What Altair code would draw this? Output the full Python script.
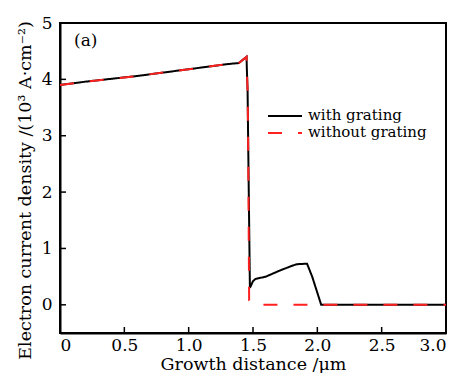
import altair as alt
import pandas as pd

# data
x_with = [0, 0.2, 0.4, 0.6, 0.8, 1.0, 1.2, 1.3, 1.39, 1.45, 1.452, 1.458, 1.462, 1.476, 1.5, 1.52, 1.6, 1.7, 1.8, 1.84, 1.92, 1.96, 2.03, 2.5, 3.0]
y_with = [3.9, 3.96, 4.01, 4.06, 4.12, 4.18, 4.24, 4.27, 4.29, 4.4, 4.2, 3.8, 3.0, 0.3, 0.42, 0.46, 0.5, 0.6, 0.69, 0.72, 0.73, 0.5, 0.0, 0.0, 0.0]
x_without = [0, 0.2, 0.4, 0.6, 0.8, 1.0, 1.2, 1.3, 1.39, 1.45, 1.452, 1.458, 1.462, 1.47, 1.5, 2.0, 2.5, 3.0]
y_without = [3.9, 3.96, 4.01, 4.06, 4.12, 4.18, 4.24, 4.27, 4.29, 4.4, 4.2, 3.8, 3.0, 0.08, 0.0, 0.0, 0.0, 0.0]
series = ["with grating", "without grating"]
x_ticks = [0, 0.5, 1.0, 1.5, 2.0, 2.5, 3.0]
y_ticks = [0, 1, 2, 3, 4, 5]

FONT = "DejaVu Serif"

rows = []
for x, y in zip(x_with, y_with):
    rows.append({"x": x, "y": y, "s": series[0]})
for x, y in zip(x_without, y_without):
    rows.append({"x": x, "y": y, "s": series[1]})
df = pd.DataFrame(rows)
df["i"] = range(len(df))

xs = alt.Scale(domain=[0, 3], nice=False)
ys = alt.Scale(domain=[-0.5, 5], nice=False)
cs = alt.Scale(domain=series, range=["black", "#ff2020"])
ds = alt.Scale(domain=series, range=[[1, 0], [14, 16]])

x_axis = alt.Axis(
    title="Growth distance /μm", values=x_ticks, ticks=False, grid=False,
    labelExpr="datum.value == 0 ? '0' : format(datum.value, '.1f')",
    labelPadding=4, titlePadding=0, titleBaseline="bottom", titleY=40)
y_axis = alt.Axis(
    title="Electron current density /(10³ A·cm⁻²)", values=y_ticks, ticks=False, grid=False,
    format="d", labelPadding=8, titlePadding=7, titleY=167)

lines = alt.Chart(df).mark_line(strokeWidth=2).encode(
    x=alt.X("x:Q", scale=xs, axis=x_axis),
    y=alt.Y("y:Q", scale=ys, axis=y_axis),
    color=alt.Color("s:N", scale=cs, legend=None),
    strokeDash=alt.StrokeDash("s:N", scale=ds, legend=None),
    order=alt.Order("i:Q"),
    detail="s:N",
)

xt = pd.DataFrame({"x": x_ticks})
yt = pd.DataFrame({"y": y_ticks})
xtick = alt.Chart(xt).mark_rule(color="black", strokeWidth=1.5).encode(
    x=alt.X("x:Q", scale=xs, axis=x_axis), y=alt.value(310), y2=alt.value(304))
ytick = alt.Chart(yt).mark_rule(color="black", strokeWidth=1.5).encode(
    y=alt.Y("y:Q", scale=ys, axis=y_axis), x=alt.value(0), x2=alt.value(6))

# legend
leg_layers = []
for k, s in enumerate(series):
    ld = pd.DataFrame({"s": [s]})
    yy = 93 + 17 * k
    leg_layers.append(alt.Chart(ld).mark_rule(strokeWidth=2).encode(
        x=alt.value(208), x2=alt.value(242), y=alt.value(yy),
        color=alt.Color("s:N", scale=cs, legend=None),
        strokeDash=alt.StrokeDash("s:N", scale=ds, legend=None)))
    leg_layers.append(alt.Chart(ld).mark_text(font=FONT, fontSize=15, align="left",
                                              baseline="middle", color="black", dy=-1).encode(
        x=alt.value(248), y=alt.value(yy), text="s:N"))

label = alt.Chart(pd.DataFrame({"t": ["(a)"]})).mark_text(
    font=FONT, fontSize=17, align="left", baseline="middle", color="black").encode(
    text="t:N", x=alt.value(14), y=alt.value(18))

chart = alt.layer(lines, xtick, ytick, *leg_layers, label).properties(
    width=386, height=310,
    autosize=alt.AutoSizeParams(type="none"),
    padding={"left": 52, "top": 15, "right": 8, "bottom": 40},
    background="white",
).configure_view(stroke="black", strokeWidth=2).configure_axis(
    domainColor="black", domainWidth=2, grid=False,
    labelFont=FONT, labelFontSize=17, labelColor="black",
    titleFont=FONT, titleFontSize=17.5, titleColor="black", titleFontWeight="normal",
)

chart.save("out.html", embed_options={"renderer": "svg", "actions": False})
